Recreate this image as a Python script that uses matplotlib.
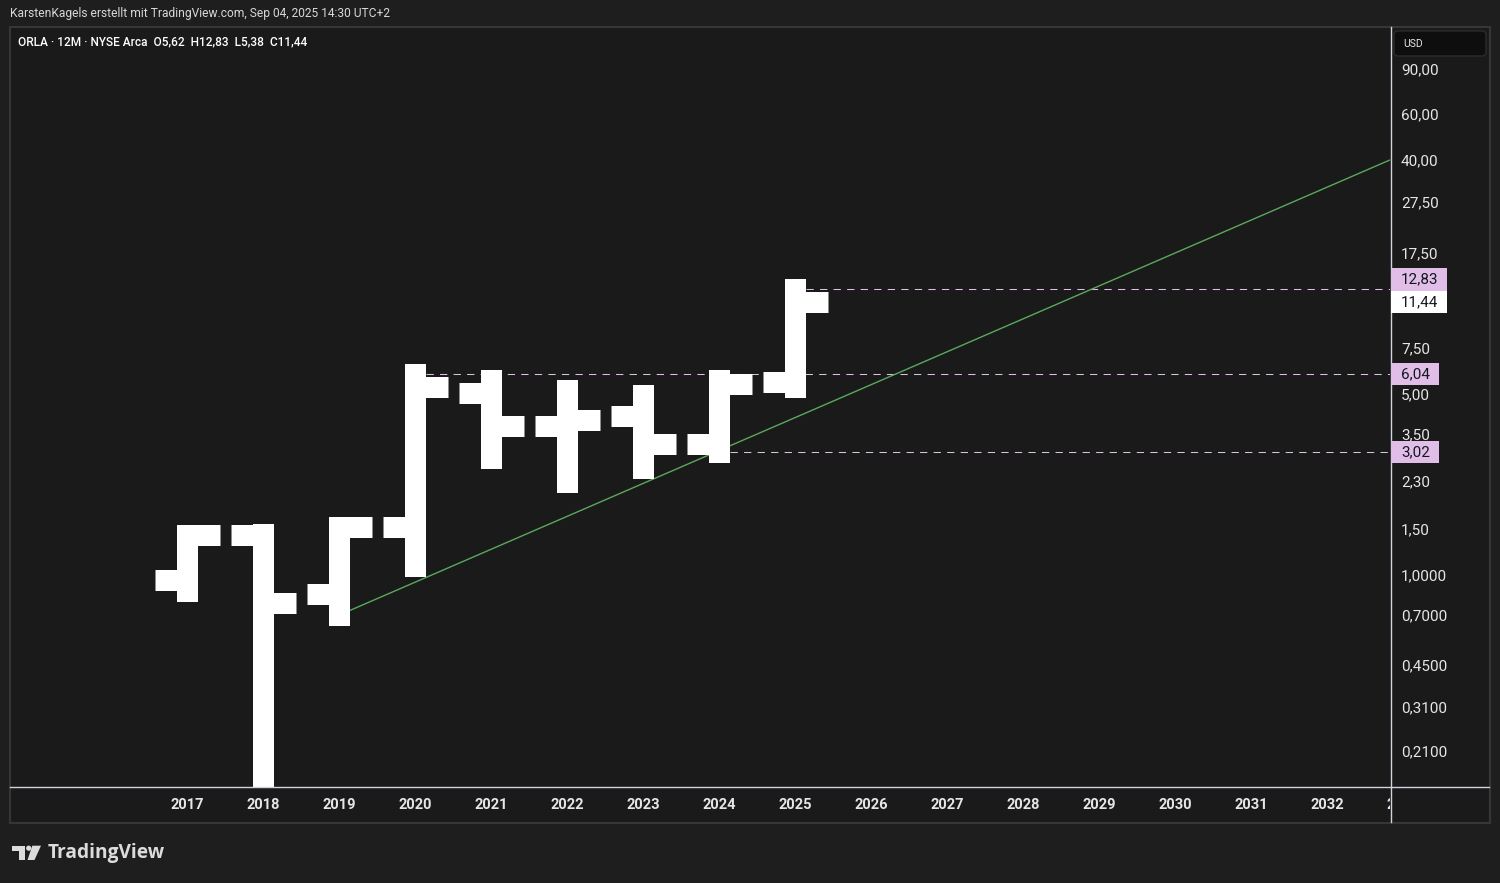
import matplotlib
matplotlib.use('Agg')
import matplotlib.pyplot as plt
from matplotlib.patches import Rectangle, FancyBboxPatch, Polygon, Circle
from matplotlib.lines import Line2D
from matplotlib.transforms import IdentityTransform

# ---------------- data ----------------
years = [2017, 2018, 2019, 2020, 2021, 2022, 2023, 2024, 2025]
opens = [0.965, 1.45, 0.852, 1.55, 5.09, 3.79, 4.15, 3.23, 5.62]
highs = [1.44, 1.46, 1.55, 6.04, 5.75, 5.22, 4.99, 5.75, 12.83]
lows = [0.876, 0.12, 0.708, 1.10, 2.86, 2.31, 2.61, 3.02, 5.38]
closes = [1.44, 0.787, 1.55, 5.37, 3.79, 4.03, 3.23, 5.51, 11.44]

year_labels = [str(y) for y in range(2017, 2034)]
price_ticks = [90, 60, 40, 27.5, 17.5, 7.5, 5.0, 3.5, 2.3, 1.5, 1.0, 0.7, 0.45, 0.31, 0.21]
price_tick_labels = ["90,00", "60,00", "40,00", "27,50", "17,50", "7,50", "5,00", "3,50",
                     "2,30", "1,50", "1,0000", "0,7000", "0,4500", "0,3100", "0,2100"]

trend_x = [2019.0, 2032.83]
trend_y = [0.708, 40.5]

# horizontal levels: (start year, price)
level_years = [2025, 2020, 2024]
level_prices = [12.83, 6.04, 3.02]
level_labels = ["12,83", "6,04", "3,02"]

# ---------------- style ----------------
W, H = 1500, 883
BG_OUT = '#1e1e1e'
BG_PANEL = '#1a1a1a'
BORDER = '#363636'
AXLINE = '#d1d4dc'
TXT = '#e6e6e6'
PINK = '#e1bee7'
GREEN = '#5aa85e'
FONT = 'Roboto'

def fx(px):
    return px / W

def fy(py):
    return 1 - py / H

fig = plt.figure(figsize=(W / 100, H / 100), dpi=100)
fig.patch.set_facecolor(BG_OUT)

# chart panel
fig.add_artist(Rectangle((fx(10), fy(823)), fx(1490) - fx(10), fy(27) - fy(823),
                         transform=fig.transFigure, facecolor=BG_PANEL,
                         edgecolor=BORDER, lw=1.5, zorder=0))

# main axes
ax = fig.add_axes([fx(10), fy(787), fx(1390) - fx(10), fy(28) - fy(787)])
ax.set_facecolor('none')
ax.set_yscale('log')
XL = (2014.671, 2032.829)
ax.set_xlim(*XL)
ax.set_ylim(0.1537, 130.8)
ax.axis('off')

# time axis
tax = fig.add_axes([fx(10), fy(822), fx(1390) - fx(10), fy(787) - fy(822)])
tax.set_facecolor('none')
tax.set_xlim(*XL)
tax.set_ylim(0, 1)
tax.axis('off')
for i, lab in enumerate(year_labels):
    tax.text(2017 + i, (822 - 805) / 35, lab, ha='center', va='center', color=TXT,
             fontsize=10.5, fontweight='bold', family=FONT, clip_on=True)

# axis lines
fig.add_artist(Line2D([fx(1390.5)] * 2, [fy(27), fy(822)], transform=fig.transFigure,
                      color=AXLINE, lw=1.0, zorder=5))
fig.add_artist(Line2D([fx(10), fx(1489)], [fy(787.2)] * 2, transform=fig.transFigure,
                      color=AXLINE, lw=1.0, zorder=5))

# trend line
ax.plot(trend_x, trend_y, color=GREEN, lw=1.0, zorder=2, solid_capstyle='butt')

# dashed level lines
for yr, p in zip(level_years, level_prices):
    ax.plot([yr + 0.14, XL[1]], [p, p], color=PINK, lw=0.75, ls=(0, (7, 6)), zorder=1)

# OHLC bars
LW = 21 * 72 / 100  # 21 px in points
for x, o, h, l, c in zip(years, opens, highs, lows, closes):
    ax.plot([x, x], [l, h], color='white', lw=LW, solid_capstyle='projecting', zorder=3)
    ax.plot([x - 0.42, x], [o, o], color='white', lw=LW, solid_capstyle='butt', zorder=3)
    ax.plot([x, x + 0.43], [c, c], color='white', lw=LW, solid_capstyle='butt', zorder=3)

# price axis tick labels
ytr = ax.get_yaxis_transform()
xlab = (1401 - 10) / 1380
for p, lab in zip(price_ticks, price_tick_labels):
    ax.text(xlab, p, lab, transform=ytr, ha='left', va='center', color=TXT,
            fontsize=11, family=FONT, clip_on=False, zorder=6)

# price labels boxes
fig.canvas.draw()
def ypix(p):
    return ax.transData.transform((2020, p))[1]

def fmt(v):
    return f"{v:.2f}".replace('.', ',')

BOX_H = 22.6
close_y = ypix(closes[-1])
boxes = [(close_y, fmt(closes[-1]), 'white', 56)]
for p, lab in zip(level_prices, level_labels):
    y = ypix(p)
    w = 56 if len(lab) >= 5 else 48
    if abs(y - close_y) < BOX_H:
        y = close_y + BOX_H  # shift up to avoid overlapping the close label
    boxes.append((y, lab, PINK, w))

for y, lab, col, w in boxes:
    fig.add_artist(Rectangle((1391, y - BOX_H / 2), w, BOX_H, transform=IdentityTransform(),
                             facecolor=col, edgecolor='none', zorder=7))
    fig.text(1401 / W, y / H, lab, ha='left', va='center', color='#131722',
             fontsize=11, family=FONT, zorder=8)

# USD box
fig.add_artist(FancyBboxPatch((1394, H - 56), 92, 25, transform=IdentityTransform(),
                              boxstyle='round,pad=0,rounding_size=4', facecolor='#0e0e0e',
                              edgecolor='#2c2c2c', lw=1, zorder=7))
fig.text(fx(1403), fy(44), "USD", ha='left', va='center', color=TXT, fontsize=7.5,
         family=FONT, zorder=8)

# header texts
fig.text(fx(10), fy(14), "KarstenKagels erstellt mit TradingView.com, Sep 04, 2025 14:30 UTC+2",
         ha='left', va='center', color='#d8d8d8', fontsize=8.65, family=FONT)

legend = (f"ORLA · 12M · NYSE Arca  O{fmt(opens[-1])}  H{fmt(highs[-1])}  "
          f"L{fmt(lows[-1])}  C{fmt(closes[-1])}")
fig.text(fx(18), fy(42), legend, ha='left', va='center', color='white', fontsize=8.6,
         fontweight='medium', family=FONT)

# TradingView logo
LOGO = '#dcdcdc'
def pxpoly(pts):
    return Polygon([(fx(a), fy(b)) for a, b in pts], closed=True, transform=fig.transFigure,
                   facecolor=LOGO, edgecolor='none')
fig.add_artist(pxpoly([(12, 845.7), (25, 845.7), (25, 860), (19, 860), (19, 851), (12, 851)]))
fig.add_artist(Circle((28.7, H - 848.2), 2.6, transform=IdentityTransform(),
                      facecolor=LOGO, edgecolor='none'))
fig.add_artist(pxpoly([(32.3, 845.7), (41, 845.7), (34.5, 860), (27.5, 860)]))
fig.text(fx(48), fy(853), "TradingView", ha='left', va='center', color=LOGO,
         fontsize=13.8, fontweight='bold', family='Open Sans')

fig.savefig('out.png', dpi=100, facecolor=fig.get_facecolor())
